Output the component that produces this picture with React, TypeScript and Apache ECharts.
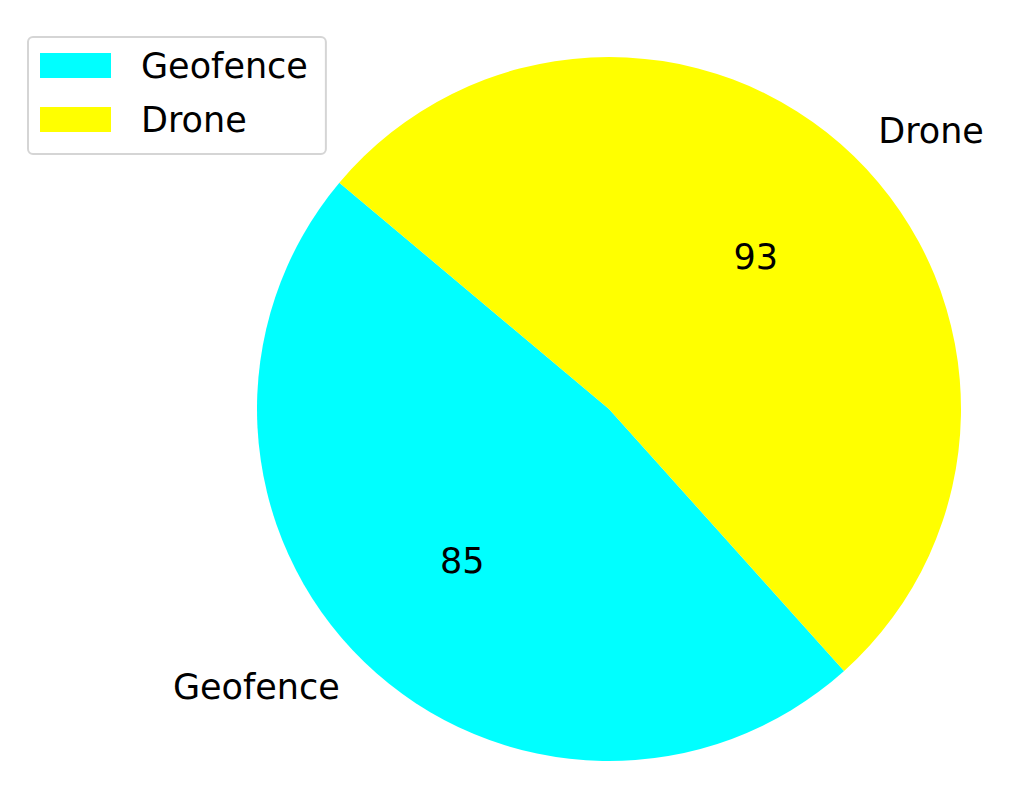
import React, { useEffect, useRef } from "react";
import * as echarts from "echarts";

const categories = ["Geofence", "Drone"];
const values = [85, 93];
const colors = ["#00FFFF", "#FFFF00"];

const FONT = "DejaVu Sans";
const FS = 35;
const R = 352;

export default function App() {
  const ref = useRef<HTMLDivElement>(null);
  useEffect(() => {
    document.body.style.margin = "0";
    const chart = echarts.init(ref.current!, null, { renderer: "svg" });
    const data = categories.map((name, i) => ({
      name,
      value: values[i],
      itemStyle: { color: colors[i] },
    }));
    chart.setOption({
      animation: false,
      backgroundColor: "#ffffff",
      legend: {
        left: 28,
        top: 37,
        orient: "vertical",
        icon: "rect",
        itemWidth: 71,
        itemHeight: 25,
        itemGap: 19,
        padding: [11, 18, 17, 12],
        borderColor: "#d5d5d5",
        borderWidth: 2,
        borderRadius: 5,
        backgroundColor: "#ffffff",
        data: categories.map((name, i) => ({ name, itemStyle: { color: colors[i] } })),
        textStyle: {
          fontFamily: FONT,
          fontSize: FS,
          lineHeight: 34,
          color: "#000000",
          padding: [0, 0, 0, 25],
        },
      },
      series: [
        {
          type: "pie",
          center: [609, 409],
          radius: [0, R],
          startAngle: 140,
          clockwise: false,
          avoidLabelOverlap: false,
          silent: true,
          data,
          label: {
            show: true,
            position: "outside",
            formatter: "{b}",
            fontFamily: FONT,
            fontSize: FS,
            color: "#000000",
            distanceToLabelLine: 0,
          },
          labelLine: { show: false, length: R * 0.1, length2: 0 },
        },
        {
          type: "pie",
          center: [609, 409],
          radius: [R * 0.2 - 6, R],
          startAngle: 140,
          clockwise: false,
          avoidLabelOverlap: false,
          silent: true,
          data: categories.map((name, i) => ({
            name,
            value: values[i],
            itemStyle: { color: "rgba(0,0,0,0)" },
          })),
          label: {
            show: true,
            position: "inside",
            formatter: "{c}",
            fontFamily: FONT,
            fontSize: FS,
            color: "#000000",
          },
          labelLine: { show: false },
        },
      ],
    });
    return () => chart.dispose();
  }, []);
  return <div ref={ref} style={{ width: 1024, height: 799 }} />;
}
